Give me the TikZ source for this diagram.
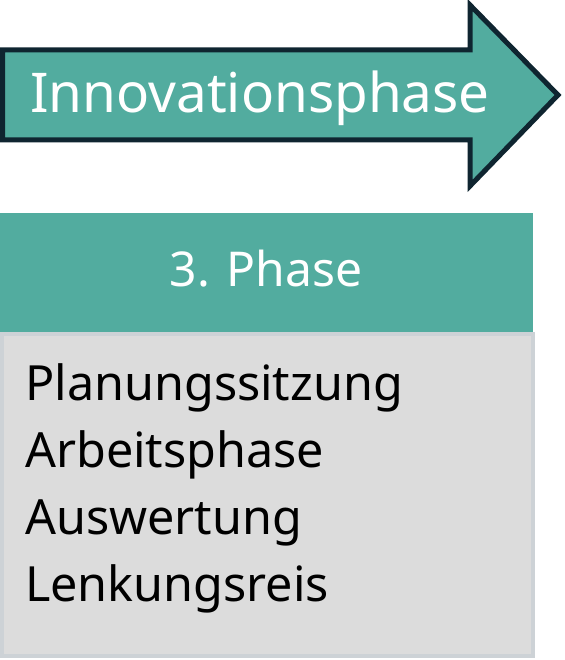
\documentclass[tikz,border=0pt]{standalone}
\usepackage{fontspec}
\setmainfont{Noto Sans}
\definecolor{teal1}{HTML}{52AC9F}
\definecolor{navy1}{HTML}{0F2530}
\definecolor{gray1}{HTML}{DCDCDC}
\definecolor{gray2}{HTML}{CDD2D6}
\tikzset{
  whitetxt/.style={text=white, inner sep=0pt, anchor=base},
  listtxt/.style={text=black, inner sep=0pt, anchor=base west, font=\fontsize{48.5}{48.5}\selectfont},
}
\begin{document}
\begin{tikzpicture}[x=1pt,y=-1pt]
\useasboundingbox (0,0) rectangle (564,660);
% arrow
\draw[navy1, fill=teal1, line width=5pt, line join=miter]
  (2.5,50) -- (470,50) -- (470,5) -- (558,95) -- (470,186) -- (470,140) -- (2.5,140) -- cycle;
\node[whitetxt, anchor=base west, font=\fontsize{54.8}{54.8}\selectfont] (innov) at (30,113) {Innovationsphase};
% header
\fill[teal1] (0,213) rectangle (533,332);
\node[whitetxt, font=\fontsize{48}{48}\selectfont] (phase) at (266,286) {3. Phase};
% list box
\draw[gray2, fill=gray1, line width=4pt] (2,334) rectangle (533,656);
\node[listtxt] (l1) at (25,400) {Planungssitzung};
\node[listtxt] (l2) at (25,467) {Arbeitsphase};
\node[listtxt] (l3) at (25,534) {Auswertung};
\node[listtxt] (l4) at (25,601) {Lenkungsreis};
\end{tikzpicture}
\end{document}
